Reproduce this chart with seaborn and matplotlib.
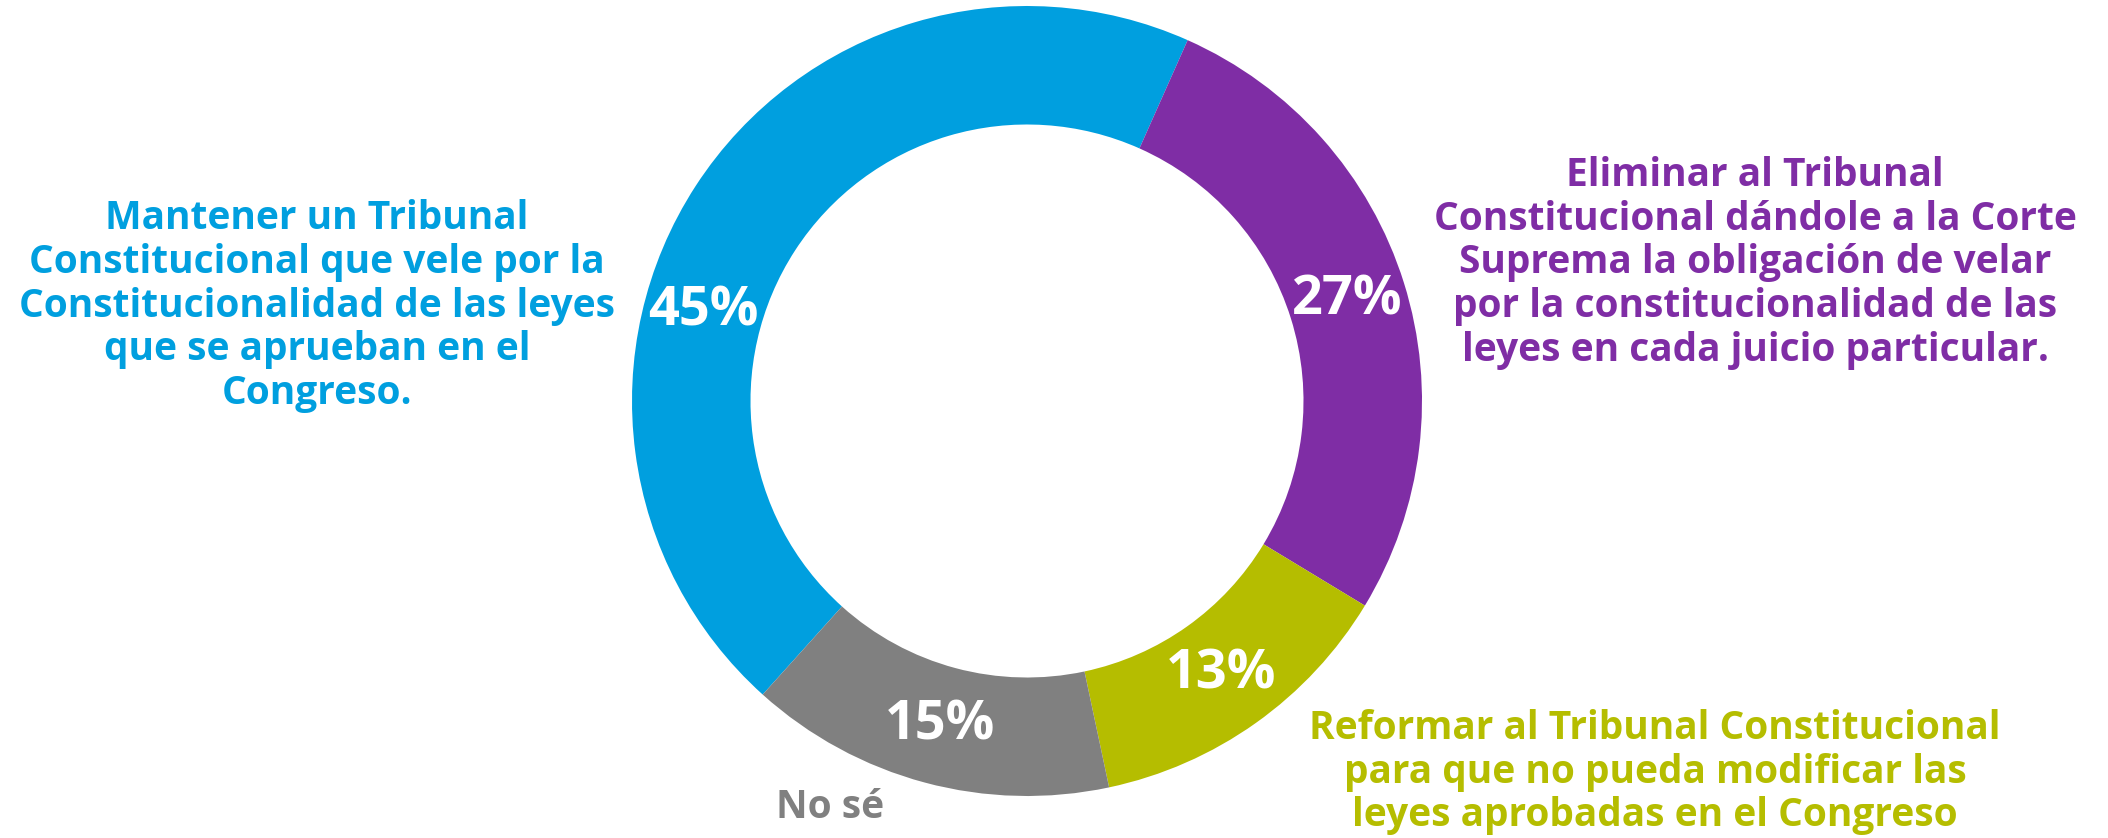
import numpy as np
import seaborn as sns
import matplotlib.pyplot as plt

# datos
categorias = [
    "Mantener un Tribunal\nConstitucional que vele por la\nConstitucionalidad de las leyes\nque se aprueban en el\nCongreso.",
    "Eliminar al Tribunal\nConstitucional dándole a la Corte\nSuprema la obligación de velar\npor la constitucionalidad de las\nleyes en cada juicio particular.",
    "Reformar al Tribunal Constitucional\npara que no pueda modificar las\nleyes aprobadas en el Congreso",
    "No sé",
]
valores = [45, 27, 13, 15]
colores = ["#009FDF", "#7F2DA5", "#B5BD00", "#808080"]

sns.set_theme(style="white")
plt.rcParams['font.family'] = ['Open Sans', 'DejaVu Sans']

W, H = 2108, 838
fig = plt.figure(figsize=(W / 100, H / 100), dpi=100)
cx, cy, r = 1027, 401, 395
ax = fig.add_axes([(cx - r) / W, (H - cy - r) / H, 2 * r / W, 2 * r / H])

paleta = sns.color_palette(colores)
wedges, textos, pcts = ax.pie(
    valores, colors=paleta, startangle=228, counterclock=False,
    radius=1, wedgeprops=dict(width=0.30, edgecolor="none"),
    autopct="%d%%", pctdistance=0.85,
    textprops=dict(color="white", fontsize=39, fontweight="bold"),
)
ax.set_xlim(-1, 1)
ax.set_ylim(-1, 1)
ax.set_aspect("equal")
ax.axis("off")

# mover el 45% un poco hacia arriba como en la original
ang = np.deg2rad(164.5)
pcts[0].set_position((0.85 * np.cos(ang), 0.85 * np.sin(ang)))

# etiquetas externas
pos_etiquetas = [(317, 306), (1755, 263), (1655, 772), (830, 807)]
for txt, col, (x, y) in zip(categorias, colores, pos_etiquetas):
    fig.text(x / W, 1 - y / H, txt, color=col, fontsize=28, fontweight="bold",
             ha="center", va="center", linespacing=1.16, multialignment="center")

fig.savefig("out.png", dpi=100, facecolor="white")
